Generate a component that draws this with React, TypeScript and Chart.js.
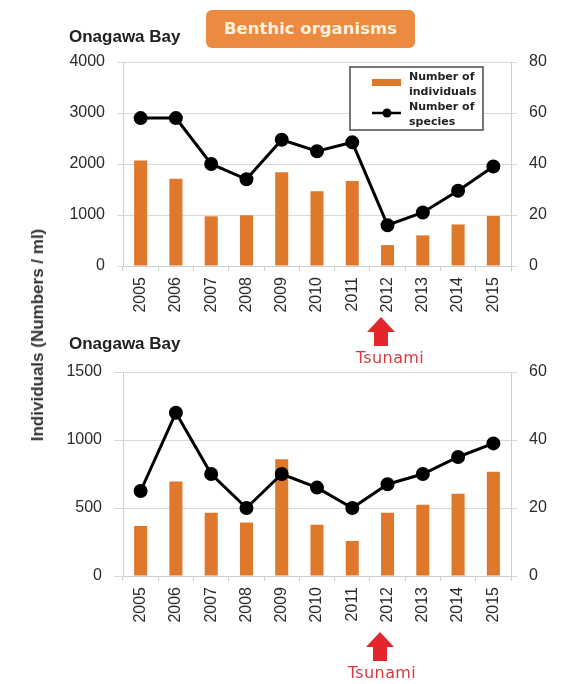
import React, { useEffect, useRef } from 'react';
import { Chart, registerables } from 'chart.js';

Chart.register(...registerables);

const years = ['2005', '2006', '2007', '2008', '2009', '2010', '2011', '2012', '2013', '2014', '2015'];
const topIndividuals = [2070, 1710, 975, 995, 1840, 1465, 1665, 410, 600, 815, 980];
const topSpecies = [58, 58, 40, 34, 49.5, 45, 48.5, 16, 21, 29.5, 39];
const bottomIndividuals = [368, 695, 465, 393, 858, 377, 258, 465, 524, 604, 767];
const bottomSpecies = [25, 48, 30, 20, 30, 26, 20, 27, 30, 35, 39];
const topLeftTicks = [0, 1000, 2000, 3000, 4000];
const topRightTicks = [0, 20, 40, 60, 80];
const bottomLeftTicks = [0, 500, 1000, 1500];
const bottomRightTicks = [0, 20, 40, 60];
const legendIndividuals = ['Number of', 'individuals'];
const legendSpecies = ['Number of', 'species'];

const W = 579;
const H = 684;
const BAR = '#e0782c';
const TICK_FONT = { family: '"Liberation Sans", Arial, sans-serif', size: 16 };
const TICK_COLOR = '#2b2b2b';

const legendPlugin = {
  id: 'boxLegend',
  afterDraw(chart: any) {
    const { ctx, chartArea: ca } = chart;
    const bx = ca.right - 161;
    const by = ca.top + 5;
    const bw = 133;
    const bh = 63;
    ctx.save();
    ctx.fillStyle = '#ffffff';
    ctx.fillRect(bx, by, bw, bh);
    ctx.strokeStyle = '#4a4a4a';
    ctx.lineWidth = 1.5;
    ctx.strokeRect(bx, by, bw, bh);
    ctx.fillStyle = BAR;
    ctx.fillRect(bx + 22, by + 12, 29, 7);
    ctx.strokeStyle = '#000';
    ctx.lineWidth = 2.5;
    ctx.beginPath();
    ctx.moveTo(bx + 22, by + 46);
    ctx.lineTo(bx + 51, by + 46);
    ctx.stroke();
    ctx.fillStyle = '#000';
    ctx.beginPath();
    ctx.arc(bx + 37, by + 46, 4.5, 0, Math.PI * 2);
    ctx.fill();
    ctx.fillStyle = '#222';
    ctx.font = 'bold 11px "DejaVu Sans", sans-serif';
    ctx.textBaseline = 'middle';
    ctx.textAlign = 'left';
    const lines = [...legendIndividuals, ...legendSpecies];
    const ys = [10, 25, 40, 55];
    lines.forEach((t, i) => ctx.fillText(t, bx + 59, by + ys[i]));
    ctx.restore();
  },
};

function makeConfig(
  individuals: number[],
  species: number[],
  leftTicks: number[],
  rightTicks: number[],
  padTop: number,
  padBottom: number,
  xHeight: number,
  leftTickLen: number,
  withLegend: boolean
): any {
  return {
    type: 'bar',
    data: {
      labels: years,
      datasets: [
        {
          type: 'line',
          label: 'Number of species',
          data: species,
          yAxisID: 'y1',
          borderColor: '#000',
          backgroundColor: '#000',
          borderWidth: 3,
          pointRadius: 5.5,
          pointBackgroundColor: '#000',
          pointBorderColor: '#000',
          tension: 0,
          order: 0,
        },
        {
          type: 'bar',
          label: 'Number of individuals',
          data: individuals,
          yAxisID: 'y',
          backgroundColor: BAR,
          barPercentage: 0.37,
          categoryPercentage: 1,
          order: 1,
        },
      ],
    },
    options: {
      responsive: false,
      animation: false,
      layout: { padding: { top: padTop, bottom: padBottom, left: 0, right: 0 } },
      plugins: { legend: { display: false }, tooltip: { enabled: false } },
      scales: {
        x: {
          type: 'category',
          ticks: {
            autoSkip: false,
            minRotation: 90,
            maxRotation: 90,
            padding: 6,
            color: TICK_COLOR,
            font: TICK_FONT,
          },
          grid: { drawOnChartArea: false, tickLength: 5, color: '#cfcfcf', offset: true },
          border: { display: true, color: '#cfcfcf' },
          afterFit: (s: any) => {
            s.height = xHeight;
          },
        },
        y: {
          position: 'left',
          min: 0,
          max: leftTicks[leftTicks.length - 1],
          ticks: {
            stepSize: leftTicks[1] - leftTicks[0],
            color: TICK_COLOR,
            font: TICK_FONT,
            padding: 12,
            callback: (v: any) => String(v),
          },
          grid: { color: '#d9d9d9', tickLength: leftTickLen },
          border: { display: true, color: '#cfcfcf' },
          afterFit: (s: any) => {
            s.width = 123;
          },
        },
        y1: {
          position: 'right',
          min: 0,
          max: rightTicks[rightTicks.length - 1],
          ticks: {
            stepSize: rightTicks[1] - rightTicks[0],
            color: TICK_COLOR,
            font: TICK_FONT,
            padding: 12,
            callback: (v: any) => String(v),
          },
          grid: { drawOnChartArea: false, color: '#d9d9d9', tickLength: 6 },
          border: { display: true, color: '#cfcfcf' },
          afterFit: (s: any) => {
            s.width = 68;
          },
        },
      },
    },
    plugins: withLegend ? [legendPlugin] : [],
  };
}

function Arrow({ x, y }: { x: number; y: number }) {
  return (
    <svg
      width={30}
      height={30}
      style={{ position: 'absolute', left: x - 15, top: y }}
      viewBox="0 0 30 30"
    >
      <polygon points="15,0 29,15 22,15 22,29 8,29 8,15 1,15" fill="#e3262b" />
    </svg>
  );
}

const tsunamiStyle: React.CSSProperties = {
  position: 'absolute',
  transform: 'translate(-50%, -50%)',
  color: '#d63a40',
  font: '16px "DejaVu Sans", sans-serif',
  letterSpacing: '0.4px',
  whiteSpace: 'nowrap',
};

const bayStyle: React.CSSProperties = {
  position: 'absolute',
  left: 69,
  color: '#222',
  font: 'bold 17px "Liberation Sans", Arial, sans-serif',
  lineHeight: '20px',
  whiteSpace: 'nowrap',
};

export default function App() {
  const topRef = useRef<HTMLCanvasElement | null>(null);
  const botRef = useRef<HTMLCanvasElement | null>(null);

  useEffect(() => {
    const c1 = new Chart(
      topRef.current as HTMLCanvasElement,
      makeConfig(topIndividuals, topSpecies, topLeftTicks, topRightTicks, 62, H - 330, 64, 6, true)
    );
    const c2 = new Chart(
      botRef.current as HTMLCanvasElement,
      makeConfig(bottomIndividuals, bottomSpecies, bottomLeftTicks, bottomRightTicks, 372, 0, 108, 9, false)
    );
    return () => {
      c1.destroy();
      c2.destroy();
    };
  }, []);

  return (
    <div style={{ position: 'absolute', left: 0, top: 0, width: W, height: H, background: '#fff', overflow: 'hidden' }}>
      <canvas ref={topRef} width={W} height={H} style={{ position: 'absolute', left: 0, top: 0, width: W, height: H }} />
      <canvas ref={botRef} width={W} height={H} style={{ position: 'absolute', left: 0, top: 0, width: W, height: H }} />
      <div
        style={{
          position: 'absolute',
          left: 206,
          top: 10,
          width: 209,
          height: 38,
          background: '#ec8a3f',
          borderRadius: 6,
          color: '#fcefdc',
          font: 'bold 16.5px "DejaVu Sans", sans-serif',
          lineHeight: '38px',
          textAlign: 'center',
          whiteSpace: 'nowrap',
        }}
      >
        Benthic organisms
      </div>
      <div style={{ ...bayStyle, top: 27 }}>Onagawa Bay</div>
      <div style={{ ...bayStyle, top: 334 }}>Onagawa Bay</div>
      <div
        style={{
          position: 'absolute',
          left: 38,
          top: 335,
          transform: 'translate(-50%, -50%) rotate(-90deg)',
          color: '#333',
          font: 'bold 17px "Liberation Sans", Arial, sans-serif',
          whiteSpace: 'nowrap',
        }}
      >
        Individuals (Numbers / ml)
      </div>
      <Arrow x={381} y={317} />
      <div style={{ ...tsunamiStyle, left: 390, top: 357 }}>Tsunami</div>
      <Arrow x={380} y={632} />
      <div style={{ ...tsunamiStyle, left: 382, top: 672 }}>Tsunami</div>
    </div>
  );
}
